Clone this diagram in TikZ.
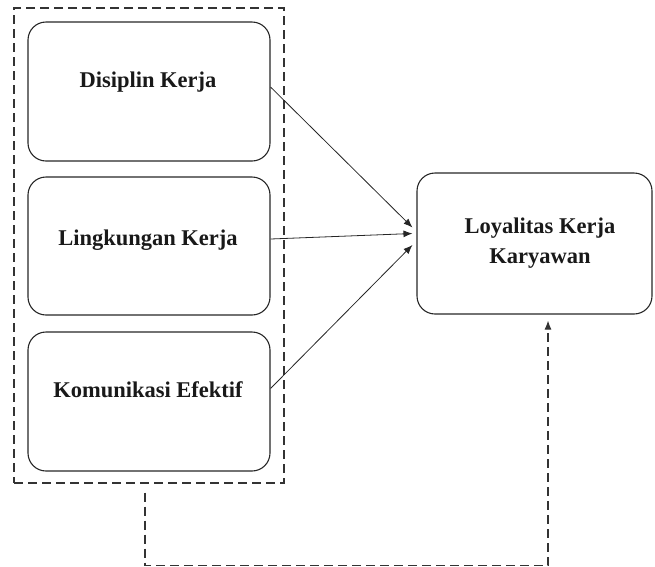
\documentclass[tikz,border=0pt]{standalone}
\usepackage{fontspec}
\setmainfont{Liberation Serif}[BoldFont={Liberation Serif Bold}]
\usetikzlibrary{arrows.meta}
\begin{document}
\begin{tikzpicture}[x=1pt,y=-1pt,
  box/.style={draw=black!85,line width=1.1pt,rounded corners=18pt,inner sep=0pt},
  lbl/.style={font=\rmfamily\bfseries\fontsize{22.5}{30}\selectfont,align=center,inner sep=0pt,text=black!90},
  arr/.style={draw=black!85,line width=0.8pt,-{Latex[length=9pt,width=7pt]}},
  grp/.style={draw=black!80,line width=1.1pt,dash pattern=on 9pt off 5pt,inner sep=0pt}
]
\useasboundingbox (0,0) rectangle (655,566);
\node[grp,minimum width=270pt,minimum height=475pt] (G) at (149,245.5) {};
\node[box,minimum width=242pt,minimum height=139pt] (b1) at (149,91.5) {};
\node[box,minimum width=242pt,minimum height=138pt] (b2) at (149,246) {};
\node[box,minimum width=242pt,minimum height=139pt] (b3) at (149,401.5) {};
\node[box,minimum width=235pt,minimum height=141pt] (R) at (534.5,243.5) {};
\node[lbl] (t1) at (148,82) {Disiplin Kerja};
\node[lbl] (t2) at (148,240) {Lingkungan Kerja};
\node[lbl] (t3) at (148,390) {Komunikasi Efektif};
\node[lbl] (tR) at (540,243) {Loyalitas Kerja\\Karyawan};
\draw[arr] ([yshift=4.5pt]b1.east) -- ([xshift=-4pt,yshift=16pt]R.west);
\draw[arr] ([yshift=7pt]b2.east) -- ([xshift=-4pt,yshift=10pt]R.west);
\draw[arr] ([yshift=13pt]b3.east) -- ([xshift=-4pt,yshift=-1.5pt]R.west);
\draw[draw=black!80,line width=1.1pt,dash pattern=on 9pt off 5pt,-{Latex[length=9pt,width=7pt]}]
  ([xshift=-4pt,yshift=-9pt]G.south) -- ++(0,73) -| ([xshift=13.5pt,yshift=-6pt]R.south);
\end{tikzpicture}
\end{document}
